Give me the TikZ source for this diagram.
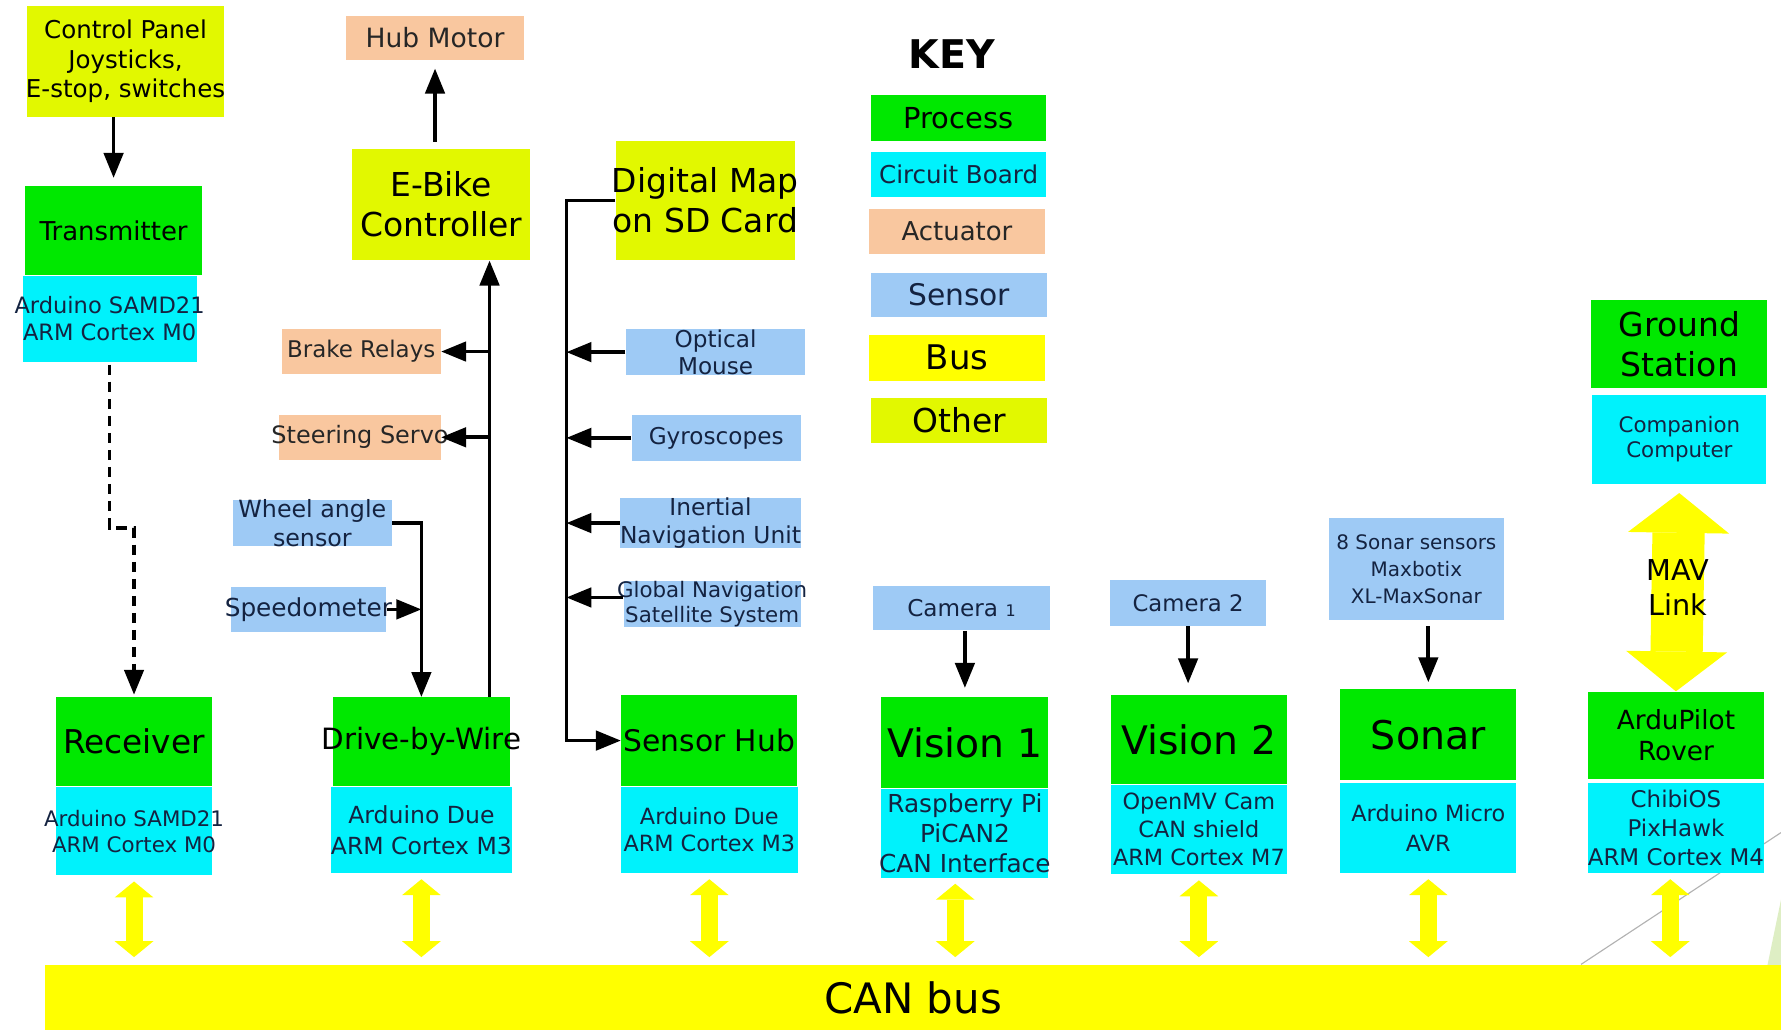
\documentclass[tikz,border=0pt]{standalone}
\usepackage{fontspec}
\setmainfont{DejaVu Sans}
\usetikzlibrary{arrows.meta,positioning}
\definecolor{procgreen}{RGB}{0,232,0}
\definecolor{boardcyan}{RGB}{0,242,252}
\definecolor{actpeach}{RGB}{249,199,159}
\definecolor{sensblue}{RGB}{158,202,245}
\definecolor{busyellow}{RGB}{255,255,0}
\definecolor{otheryellow}{RGB}{226,248,0}
\definecolor{inkblue}{RGB}{20,35,65}
\definecolor{paleleaf}{RGB}{222,238,196}
\newcommand{\ovr}[1]{\makebox[0pt]{#1}}
\newcommand{\fs}[2]{\fontsize{#1}{#2}\selectfont}
\tikzstyle{box} = [rectangle, inner sep=0pt, align=center]
\tikzstyle{process} = [box, fill=procgreen, text=black]
\tikzstyle{board} = [box, fill=boardcyan, text=inkblue]
\tikzstyle{actuator} = [box, fill=actpeach, text=black!85]
\tikzstyle{sensor} = [box, fill=sensblue, text=inkblue]
\tikzstyle{bus} = [box, fill=busyellow, text=black]
\tikzstyle{other} = [box, fill=otheryellow, text=black]
\tikzstyle{flow} = [draw, line width=0.65mm, -{Triangle[width=3.4mm,length=4.4mm]}]
\tikzstyle{radio} = [flow, dash pattern=on 1.8mm off 1.2mm]
\tikzstyle{canlink} = [draw=busyellow, line width=3mm, {Triangle[width=6.8mm,length=2.8mm,line width=0pt]}-{Triangle[width=6.8mm,length=2.8mm,line width=0pt]}]
\tikzstyle{mavlink} = [draw=busyellow, line width=9.2mm, {Triangle[width=17.8mm,length=7mm,line width=0pt]}-{Triangle[width=17.8mm,length=7mm,line width=0pt]}]
\begin{document}
\begin{tikzpicture}[x=0.2mm, y=-0.2mm]
    \useasboundingbox (0,0) rectangle (1568,907);
    % 背景装饰
    \draw[black!30, line width=0.2mm] (1392,849) -- (1568,733);
    \fill[paleleaf] (1556,850) -- (1568,792) -- (1568,850) -- cycle;

    % 遥控部分
    \node[other, minimum width=34.6mm, minimum height=19.6mm, font=\fs{12.3}{14.8}] (ctrl) at (110.5,54) {Control Panel\\Joysticks,\\\ovr{E-stop, switches}};
    \node[process, minimum width=31.2mm, minimum height=15.6mm, font=\fs{13}{15.6}] (tx) at (100,203) {Transmitter};
    \node[board, below=0pt of tx, xshift=-0.7mm, minimum width=30.6mm, minimum height=15.2mm, font=\fs{11.3}{13.7}] (txb) {\ovr{Arduino SAMD21}\\ARM Cortex M0};
    \coordinate (bend) at (118,465);

    % 驱动部分
    \node[actuator, minimum width=31.2mm, minimum height=7.8mm, font=\fs{13.3}{16}] (hub) at (383,33.5) {Hub Motor};
    \node[other, minimum width=31.4mm, minimum height=19.6mm, font=\fs{16.5}{19.9}] (ebike) at (388.5,180) {E-Bike\\Controller};
    \node[actuator, minimum width=28mm, minimum height=7.8mm, font=\fs{11.5}{14}] (brake) at (318,309.5) {Brake Relays};
    \node[actuator, minimum width=28.4mm, minimum height=8mm, font=\fs{12}{14}] (steer) at (317,385) {\ovr{Steering Servo}};
    \node[sensor, minimum width=28mm, minimum height=8.2mm, font=\fs{11.9}{14.2}] (wheel) at (275,460.5) {Wheel angle\\sensor};
    \node[sensor, minimum width=27.4mm, minimum height=7.8mm, font=\fs{12.4}{14}] (speed) at (271.5,536.5) {\ovr{Speedometer}};

    % 传感器部分
    \node[other, minimum width=31.6mm, minimum height=21mm, font=\fs{16.5}{19.9}] (map) at (621,176.5) {\ovr{Digital Map}\\\ovr{on SD Card}};
    \node[sensor, minimum width=31.6mm, minimum height=8mm, font=\fs{11.6}{13.7}] (mouse) at (630,310) {Optical\\Mouse};
    \node[sensor, minimum width=29.8mm, minimum height=8.2mm, font=\fs{11.6}{14}] (gyro) at (630.5,385.5) {Gyroscopes};
    \node[sensor, minimum width=31.8mm, minimum height=8.2mm, font=\fs{11.7}{13.7}] (inu) at (625.5,460.5) {Inertial\\\ovr{Navigation Unit}};
    \node[sensor, minimum width=31.2mm, minimum height=8mm, font=\fs{10.7}{12.6}] (gnss) at (627,532) {\ovr{Global Navigation}\\\ovr{Satellite System}};
    \node[sensor, minimum width=31mm, minimum height=7.8mm, font=\fs{11.6}{14}] (cam1) at (846.5,535.5) {Camera {\fs{8}{10}1}};
    \node[sensor, minimum width=27.6mm, minimum height=8mm, font=\fs{11.4}{14}] (cam2) at (1046,531) {Camera 2};
    \node[sensor, minimum width=30.8mm, minimum height=18mm, font=\fs{10}{13.4}] (sonars) at (1247,501) {\ovr{8 Sonar sensors}\\Maxbotix\\XL-MaxSonar};

    % 图例
    \node[font=\bfseries\fs{19.8}{23}] (key) at (838,48) {KEY};
    \node[process, minimum width=30.8mm, minimum height=8mm, font=\fs{14.5}{17}] (kproc) at (844,104) {Process};
    \node[board, minimum width=30.8mm, minimum height=7.8mm, font=\fs{12.3}{15}] (kboard) at (844,153.5) {Circuit Board};
    \node[actuator, minimum width=31mm, minimum height=8mm, font=\fs{13}{15}] (kact) at (842.5,204) {Actuator};
    \node[sensor, minimum width=31mm, minimum height=7.8mm, font=\fs{14.9}{17}] (ksens) at (844.5,259.5) {Sensor};
    \node[bus, minimum width=31mm, minimum height=8mm, font=\fs{17}{20}] (kbus) at (842.5,315) {Bus};
    \node[other, minimum width=31mm, minimum height=8mm, font=\fs{16.5}{20}] (kother) at (844.5,370) {Other};

    % 地面站
    \node[process, minimum width=31mm, minimum height=15.6mm, font=\fs{16.5}{19.9}] (gs) at (1478.5,303) {Ground\\Station};
    \node[board, below=1mm of gs, minimum width=30.6mm, minimum height=15.6mm, font=\fs{10.7}{12.5}] (cc) {Companion\\Computer};

    % 控制器
    \node[process, minimum width=27.6mm, minimum height=15.6mm, font=\fs{16.4}{19.7}] (rx) at (118,653) {Receiver};
    \node[board, below=0pt of rx, minimum width=27.6mm, minimum height=15.6mm, font=\fs{10.7}{13.1}] (rxb) {\ovr{Arduino SAMD21}\\\ovr{ARM Cortex M0}};
    \node[process, minimum width=31.2mm, minimum height=15.6mm, font=\fs{14.7}{17.6}] (dbw) at (371,653) {\ovr{Drive-by-Wire}};
    \node[board, below=0pt of dbw, minimum width=31.8mm, minimum height=15.2mm, font=\fs{11.8}{15.4}] (dbwb) {Arduino Due\\\ovr{ARM Cortex M3}};
    \node[process, minimum width=31mm, minimum height=16mm, font=\fs{14.9}{17.6}] (shub) at (624.5,652) {Sensor Hub};
    \node[board, below=0pt of shub, minimum width=31.2mm, minimum height=15.2mm, font=\fs{11.2}{13.7}] (shubb) {Arduino Due\\\ovr{ARM Cortex M3}};
    \node[process, minimum width=29.4mm, minimum height=16mm, font=\fs{19.7}{23}] (vis1) at (849.5,654) {Vision 1};
    \node[board, below=0pt of vis1, minimum width=29.4mm, minimum height=15.6mm, font=\fs{12.4}{15.1}] (vis1b) {Raspberry Pi\\PiCAN2\\\ovr{CAN Interface}};
    \node[process, minimum width=31mm, minimum height=15.6mm, font=\fs{19.7}{23}] (vis2) at (1055.5,651) {Vision 2};
    \node[board, below=0pt of vis2, minimum width=31mm, minimum height=15.8mm, font=\fs{11.2}{13.9}] (vis2b) {OpenMV Cam\\CAN shield\\\ovr{ARM Cortex M7}};
    \node[process, minimum width=31mm, minimum height=16mm, font=\fs{19.8}{23}] (sonar) at (1257.5,647) {Sonar};
    \node[board, below=0.4mm of sonar, minimum width=31mm, minimum height=15.8mm, font=\fs{11.2}{14.8}] (sonarb) {\ovr{Arduino Micro}\\AVR};
    \node[process, minimum width=31mm, minimum height=15.4mm, font=\fs{13.2}{15.4}] (ap) at (1475.5,647.5) {ArduPilot\\Rover};
    \node[board, below=0.6mm of ap, minimum width=31mm, minimum height=15.8mm, font=\fs{11.5}{14.5}] (apb) {ChibiOS\\PixHawk\\\ovr{ARM Cortex M4}};

    % 总线
    \node[bus, minimum width=305.6mm, minimum height=11.4mm, font=\fs{21}{24}] (can) at (804,878.5) {CAN bus};

    % 连接
    \draw[flow, shorten >=1.4mm] (tx.north |- ctrl.south) -- (tx.north);
    \draw[radio, shorten <=0.4mm, shorten >=0.4mm] (txb.south) |- (bend) -- (rx.north);
    \draw[flow, shorten <=1.2mm, shorten >=1.4mm] (ebike.north -| hub.south) -- (hub.south);
    \coordinate (ctl) at ([xshift=12mm]dbw.north);
    \draw[flow] (ctl) -- (ctl |- ebike.south);
    \draw[flow] (ctl |- brake.east) -- (brake.east);
    \draw[flow] (ctl |- steer.east) -- (steer.east);
    \draw[flow] (wheel.east) -| (dbw.north);
    \draw[flow] (speed.east) -- (speed.east -| dbw.north);
    \draw[flow] (map.west) -- ++(-8.6mm,0) coordinate (hubline) |- (shub.west);
    \draw[flow] (mouse.west) -- (mouse.west -| hubline);
    \draw[flow] (gyro.west) -- (gyro.west -| hubline);
    \draw[flow] (inu.west) -- (inu.west -| hubline);
    \draw[flow] ([yshift=1.2mm]gnss.west) -- ([yshift=1.2mm]gnss.west -| hubline);
    \draw[flow, shorten >=1.6mm] (cam1.south -| vis1.north) -- (vis1.north);
    \draw[flow, shorten >=2mm] (cam2.south) -- (cam2.south |- vis2.north);
    \draw[flow, shorten <=1mm, shorten >=1.2mm] (sonars.south -| sonar.north) -- (sonar.north);
    \draw[mavlink, shorten <=1.6mm] (cc.south) -- (ap.north) node[midway, text=black, align=center, font=\fs{14.4}{17.6}] (mav) {MAV\\Link};

    % 总线连接
    \draw[canlink, shorten <=1mm, shorten >=1.4mm] (rxb.south) -- (rxb.south |- can.north);
    \draw[canlink, shorten <=1mm, shorten >=1.4mm] (dbwb.south) -- (dbwb.south |- can.north);
    \draw[canlink, shorten <=1mm, shorten >=1.4mm] (shubb.south) -- (shubb.south |- can.north);
    \draw[canlink, shorten <=1mm, shorten >=1.4mm] ([xshift=-1.7mm]vis1b.south) -- ([xshift=-1.7mm]vis1b.south |- can.north);
    \draw[canlink, shorten <=1mm, shorten >=1.4mm] (vis2b.south) -- (vis2b.south |- can.north);
    \draw[canlink, shorten <=1mm, shorten >=1.4mm] (sonarb.south) -- (sonarb.south |- can.north);
    \draw[canlink, shorten <=1mm, shorten >=1.4mm] ([xshift=-1mm]apb.south) -- ([xshift=-1mm]apb.south |- can.north);
\end{tikzpicture}
\end{document}
